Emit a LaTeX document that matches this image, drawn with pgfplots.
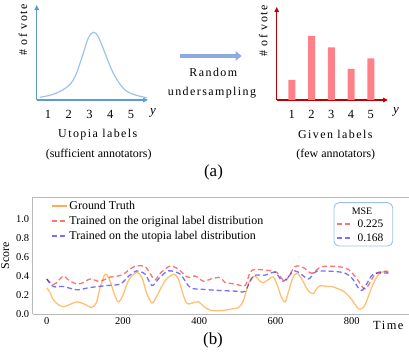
\documentclass[border=0pt]{standalone}
\usepackage{fontspec}
\setmainfont{Liberation Serif}
\newfontfamily\spaced[LetterSpace=12]{Liberation Serif}
\usepackage{pgfplots}
\pgfplotsset{compat=1.18}
\usetikzlibrary{arrows.meta}
\definecolor{utopiablue}{RGB}{91,155,213}
\definecolor{curveblue}{RGB}{157,195,230}
\definecolor{givenred}{RGB}{192,0,0}
\definecolor{barpink}{RGB}{255,128,136}
\definecolor{arrowblue}{RGB}{143,170,220}
\definecolor{gtorange}{RGB}{255,140,0}
\definecolor{msebox}{RGB}{155,194,230}
\definecolor{legorange}{RGB}{255,172,85}
\definecolor{legred}{RGB}{255,115,115}
\definecolor{legblue}{RGB}{115,115,255}

\begin{document}
\begin{tikzpicture}
\useasboundingbox (0,0) rectangle (409bp,355bp);

% ---- (a) left: utopia distribution
\begin{axis}[at={(36.7bp,255bp)}, anchor=south west, scale only axis,
  width=111.3bp, height=95bp, xmin=0.455, xmax=5.82, ymin=0, ymax=95,
  enlargelimits=false, axis lines=left,
  axis line style={draw=utopiablue, line width=1.2bp, -{Triangle[length=5bp,width=4.5bp]}},
  xtick={1,...,5}, ytick=\empty, tick style={draw=none},
  /pgf/number format/assume math mode=true,
  xticklabel style={font=\fontsize{12.5}{14}\selectfont, yshift=-5bp},
  clip=false]
\addplot[curveblue, line width=1.2bp, smooth, tension=0.6] coordinates {
  (0.61,2.7) (1.25,5.7) (1.90,12.7) (2.30,23.3) (2.70,46.7) (2.94,61.7)
  (3.18,67.7) (3.42,63.3) (3.75,46.7) (4.15,26.7) (4.63,11.7) (5.11,5.7) (5.76,2.3)
};
\end{axis}

% ---- (a) right: given labels
\begin{axis}[at={(276.7bp,255bp)}, anchor=south west, scale only axis,
  width=111.3bp, height=93bp, xmin=0.238, xmax=5.87, ymin=0, ymax=93,
  enlargelimits=false, axis lines=left,
  axis line style={draw=givenred, line width=1.2bp, -{Triangle[length=5bp,width=4.5bp]}},
  xtick={1,...,5}, ytick=\empty, tick style={draw=none},
  /pgf/number format/assume math mode=true,
  xticklabel style={font=\fontsize{12.5}{14}\selectfont, yshift=-5bp},
  clip=false]
\addplot[ybar, bar width=7bp, fill=barpink, draw=none, bar shift=0pt] coordinates {
  (1,20) (2,64) (3,52.7) (4,31) (5,41.7)
};
\end{axis}

% ---- (a) texts and arrow
\node[rotate=90, font=\spaced\fontsize{12}{14}\selectfont] at (23bp,325bp) {\# of vote};
\node[rotate=90, font=\spaced\fontsize{12}{14}\selectfont] at (263.3bp,324bp) {\# of vote};
\node[font=\fontsize{13}{14}\selectfont\itshape] at (153bp,242bp) {y};
\node[font=\fontsize{13}{14}\selectfont\itshape] at (396bp,243bp) {y};
\node[font=\spaced\fontsize{12}{14}\selectfont] at (97.8bp,220bp) {Utopia labels};
\node[font=\fontsize{12}{14}\selectfont] at (98.7bp,200bp) {(sufficient annotators)};
\node[font=\spaced\fontsize{12}{14}\selectfont] at (335.3bp,221bp) {Given labels};
\node[font=\fontsize{12}{14}\selectfont] at (335.8bp,200bp) {(few annotators)};
\draw[arrowblue, line width=4bp, -{Triangle[length=6bp,width=9bp]}] (180bp,299bp) -- (241.7bp,299bp);
\node[font=\spaced\fontsize{12}{14}\selectfont] at (213.3bp,283bp) {Random};
\node[font=\spaced\fontsize{12}{14}\selectfont] at (212bp,262bp) {undersampling};
\node[font=\fontsize{17}{19}\selectfont] at (213.5bp,182.5bp) {(a)};
\node[font=\fontsize{17}{19}\selectfont] at (213bp,15bp) {(b)};

% ---- (b) scores over time
\begin{axis}[at={(32.7bp,41bp)}, anchor=south west, scale only axis,
  width=376.3bp, height=117bp, xmin=-37, xmax=950, ymin=0, ymax=1.235,
  separate axis lines, axis x line*=box, axis y line*=left,
  axis line style={draw=gray!55, line width=0.6bp},
  xtick={0,200,...,800}, ytick={0,0.2,...,1.0}, tick style={draw=none},
  tick label style={font=\fontsize{10.5}{12}\selectfont},
  /pgf/number format/assume math mode=true,
  yticklabel style={/pgf/number format/.cd, fixed, fixed zerofill, precision=1},
  xlabel={Time}, ylabel={Score},
  xlabel style={font=\spaced\fontsize{12.5}{14}\selectfont, at={(axis description cs:0.945,0)}, anchor=base, yshift=-15bp},
  ylabel style={font=\fontsize{12}{14}\selectfont},
  legend style={at={(0.045,0.99)}, anchor=north west, draw=none, fill=none,
    font=\fontsize{12}{14}\selectfont, row sep=1.2pt, inner sep=1pt},
  legend cell align=left,
  legend image code/.code={\draw[#1, line width=1.6bp] (0bp,0bp) -- (15bp,0bp);},
  clip=false]
\addlegendimage{legorange}
\addlegendentry{Ground Truth}
\addlegendimage{legred, dash pattern=on 5bp off 3bp}
\addlegendentry{Trained on the original label distribution}
\addlegendimage{legblue, dash pattern=on 5bp off 3bp}
\addlegendentry{Trained on the utopia label distribution}
\addplot[gtorange, opacity=0.55, line width=1.3bp, smooth, forget plot] coordinates {
  (0,0.276) (8,0.23) (17,0.15) (30,0.10) (44,0.076) (60,0.10) (79,0.128) (98,0.105)
  (118,0.069) (130,0.12) (140,0.28) (153,0.42) (165,0.36) (178,0.20) (188,0.128)
  (200,0.2) (215,0.36) (236,0.438) (250,0.38) (262,0.22) (276,0.117) (290,0.2)
  (310,0.35) (333,0.42) (345,0.37) (358,0.2) (368,0.11) (385,0.12) (398,0.128)
  (412,0.08) (429,0.04) (455,0.034) (480,0.05) (503,0.069) (516,0.145) (530,0.33)
  (545,0.40) (558,0.35) (568,0.33) (580,0.36) (594,0.39) (605,0.3) (615,0.18)
  (625,0.128) (635,0.25) (645,0.38) (656,0.43) (670,0.36) (685,0.25) (699,0.214)
  (710,0.28) (721,0.30) (735,0.29) (747,0.29) (765,0.265) (782,0.23) (800,0.15)
  (812,0.08) (822,0.048) (835,0.1) (852,0.28) (864,0.38) (874,0.43) (885,0.45) (896,0.455)
};
\addplot[red, opacity=0.55, line width=1.3bp, dash pattern=on 5bp off 3bp, smooth, forget plot] coordinates {
  (0,0.37) (17,0.31) (30,0.35) (44,0.40) (60,0.35) (79,0.317) (95,0.33) (114,0.37)
  (136,0.345) (150,0.36) (166,0.39) (185,0.40) (201,0.42) (220,0.48) (236,0.507)
  (258,0.50) (272,0.42) (284,0.36) (300,0.44) (324,0.507) (346,0.47) (368,0.39)
  (390,0.40) (411,0.345) (430,0.37) (455,0.386) (467,0.334) (494,0.317) (520,0.30)
  (533,0.44) (547,0.47) (581,0.46) (603,0.44) (625,0.35) (651,0.50) (673,0.49)
  (695,0.43) (721,0.50) (765,0.50) (791,0.47) (812,0.38) (835,0.266) (861,0.42)
  (883,0.45) (896,0.44)
};
\addplot[blue, opacity=0.55, line width=1.3bp, dash pattern=on 5bp off 3bp, smooth, forget plot] coordinates {
  (0,0.37) (17,0.29) (44,0.29) (79,0.255) (114,0.28) (158,0.30) (193,0.317)
  (215,0.40) (236,0.455) (258,0.42) (276,0.30) (295,0.38) (319,0.455) (350,0.42)
  (376,0.28) (410,0.26) (455,0.248) (503,0.24) (520,0.24) (542,0.40) (572,0.41)
  (599,0.44) (620,0.345) (651,0.455) (686,0.37) (708,0.45) (774,0.44) (800,0.38)
  (826,0.248) (856,0.42) (896,0.43)
};
\end{axis}

% ---- MSE box
\draw[msebox, line width=0.9bp, rounded corners=5bp] (334bp,109bp) rectangle (392.7bp,152.3bp);
\node[font=\fontsize{10}{12}\selectfont] at (362bp,143.3bp) {MSE};
\draw[legred, line width=1.5bp, dash pattern=on 5bp off 3bp] (337bp,131bp) -- (353bp,131bp);
\node[font=\fontsize{11.5}{13}\selectfont] at (370.5bp,131bp) {0.225};
\draw[legblue, line width=1.5bp, dash pattern=on 5bp off 3bp] (337bp,117bp) -- (353bp,117bp);
\node[font=\fontsize{11.5}{13}\selectfont] at (370.5bp,117bp) {0.168};
\end{tikzpicture}
\end{document}
